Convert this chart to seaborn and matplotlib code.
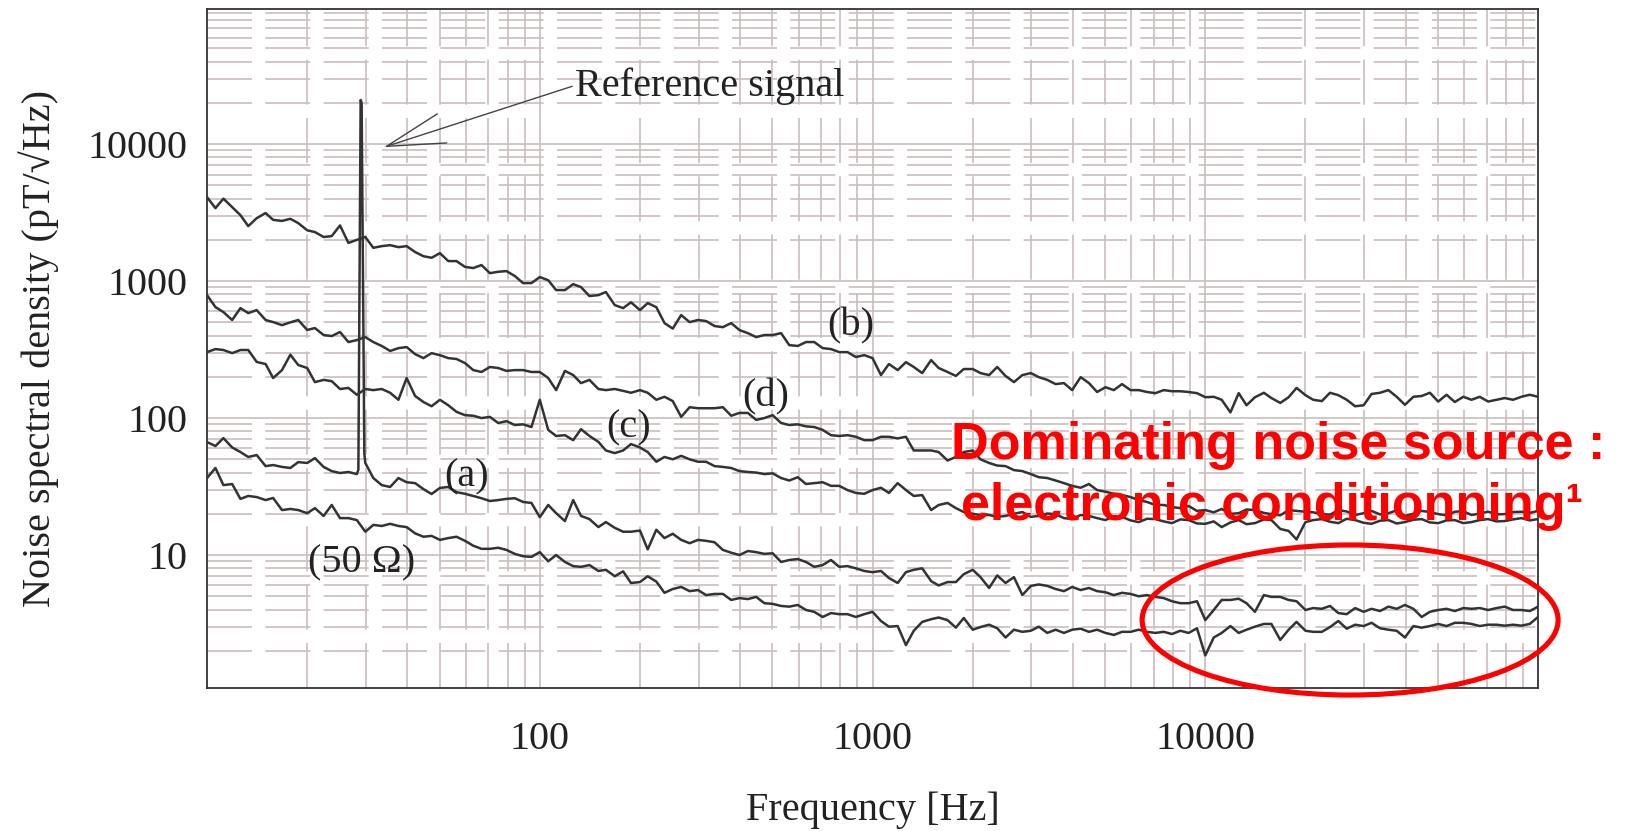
import numpy as np
import pandas as pd
import seaborn as sns
import matplotlib.pyplot as plt
from matplotlib.patches import Ellipse
from matplotlib.ticker import LogLocator, NullFormatter

sns.set_style("white")
plt.rcParams['font.family'] = ['Liberation Serif', 'DejaVu Serif']

# frequency points (Hz), shared by all curves
freq = [10, 10.6, 11.2, 11.9, 12.6, 13.3, 14.1, 15.0, 15.8, 16.8,
        17.8, 18.8, 20.0, 21.1, 22.4, 23.7, 25.1, 26.6, 28.2, 29.9,
        31.6, 33.5, 35.5, 37.6, 39.8, 42.2, 44.7, 47.3, 50.1, 53.1,
        56.2, 59.6, 63.1, 66.8, 70.8, 75.0, 79.4, 84.1, 89.1, 94.4,
        100, 106, 112, 119, 126, 133, 141, 150, 158, 168,
        178, 188, 200, 211, 224, 237, 251, 266, 282, 299,
        316, 335, 355, 376, 398, 422, 447, 473, 501, 531,
        562, 596, 631, 668, 708, 750, 794, 841, 891, 944,
        1000, 1060, 1120, 1190, 1260, 1330, 1410, 1500, 1580, 1680,
        1780, 1880, 2000, 2110, 2240, 2370, 2510, 2660, 2820, 2990,
        3160, 3350, 3550, 3760, 3980, 4220, 4470, 4730, 5010, 5310,
        5620, 5960, 6310, 6680, 7080, 7500, 7940, 8410, 8910, 9440,
        10000, 10600, 11200, 11900, 12600, 13300, 14100, 15000, 15800, 16800,
        17800, 18800, 20000, 21100, 22400, 23700, 25100, 26600, 28200, 29900,
        31600, 33500, 35500, 37600, 39800, 42200, 44700, 47300, 50100, 53100,
        56200, 59600, 63100, 66800, 70800, 75000, 79400, 84100, 89100, 94400,
        100000]

# noise spectral density (pT/sqrt(Hz))
nsd_b = [4100, 3410, 4000, 3470, 3030, 2520, 2880, 3140, 2800, 2750,
         2850, 2650, 2350, 2280, 2100, 2130, 2550, 1900, 2000, 2100,
         1750, 1800, 1830, 1770, 1800, 1630, 1520, 1480, 1600, 1400,
         1400, 1270, 1245, 1310, 1143, 1170, 1183, 1090, 966, 967,
         1070, 1015, 860, 860, 950, 904, 778, 790, 832, 668,
         635, 700, 614, 691, 645, 494, 450, 565, 502, 520,
         511, 470, 461, 494, 439, 417, 390, 404, 404, 417,
         341, 336, 359, 359, 324, 319, 303, 303, 279, 288,
         274, 206, 248, 224, 256, 236, 213, 265, 232, 217,
         203, 228, 228, 213, 206, 236, 203, 183, 206, 213,
         199, 190, 177, 180, 160, 199, 180, 155, 168, 160,
         177, 160, 160, 155, 152, 160, 157, 157, 155, 152,
         142, 143, 136, 110, 152, 124, 142, 153, 140, 129,
         142, 166, 147, 136, 133, 153, 147, 136, 122, 124,
         150, 153, 160, 143, 125, 143, 145, 153, 132, 148,
         131, 143, 136, 143, 132, 136, 140, 136, 143, 148,
         143]

nsd_d = [790, 646, 594, 520, 635, 584, 614, 520, 502, 477,
         500, 520, 440, 454, 404, 397, 425, 359, 371, 390,
         359, 336, 309, 324, 330, 293, 274, 298, 288, 274,
         270, 252, 224, 217, 236, 232, 221, 224, 224, 217,
         217, 196, 160, 221, 206, 180, 190, 163, 160, 163,
         158, 153, 160, 153, 136, 143, 133, 102, 120, 118,
         118, 118, 120, 104, 109, 109, 97, 100, 105, 92,
         89, 90, 87, 86, 82, 75, 74, 75, 73, 69,
         69, 73, 73, 71, 73, 58, 58, 58, 56.5, 49,
         52, 56.5, 58, 50, 47, 45, 44.6, 41.7, 41, 39,
         37, 36.5, 35, 33.5, 32, 31, 33, 29.8, 29, 28,
         27.4, 26.5, 25.2, 24.4, 23.2, 23.2, 22.4, 22, 22.8, 21,
         21.3, 20.5, 21.7, 20.0, 20.2, 21.5, 21.3, 20.3, 19.9, 19.5,
         21.3, 21.0, 20.7, 20.5, 19.9, 19.7, 21.3, 20.8, 19.6, 20.2,
         21, 19.8, 20.2, 21.2, 19.3, 20.0, 21, 20.6, 19.9, 19.5,
         20.7, 20.9, 19.6, 20.1, 20.7, 19.8, 19.9, 20.6, 20.7, 20.3,
         21]

nsd_c = [303, 319, 314, 298, 314, 314, 257, 248, 196, 224,
         290, 244, 232, 183, 190, 186, 163, 166, 148, 163,
         160, 163, 153, 136, 196, 145, 131, 122, 136, 124,
         111, 105, 104, 100, 102, 92, 95, 89, 90, 86,
         136, 82, 74, 75, 69, 83, 74, 67, 58, 55.5,
         58, 64.6, 61, 56.5, 48, 52, 50, 53, 50, 48,
         48, 44.6, 44, 43.2, 41, 40.4, 40, 39, 39.5, 36.5,
         35, 37, 33, 33.5, 34, 32, 32, 29.8, 28.4, 28,
         29.8, 31, 28.4, 33.5, 29.8, 27, 27.4, 21.3, 23.2, 24,
         22, 20.6, 20, 19.6, 19.6, 19, 19.3, 20.0, 20.6, 19.0,
         19.3, 20.1, 19.9, 18.6, 18.3, 19.6, 19.3, 18.6, 18, 19.2,
         19, 17.9, 17.4, 18.4, 18.3, 17.6, 17.1, 18.2, 18, 17.0,
         16.9, 17.6, 16, 17.3, 18, 16.8, 17.1, 18.2, 18, 15.5,
         15, 13, 17.4, 18.0, 18.3, 17.5, 17.1, 18.4, 18, 17.2,
         16.9, 17.8, 18, 17.0, 17.4, 18.1, 18.3, 17.3, 17.1, 17.9,
         18, 17.1, 17.4, 18.0, 18.3, 17.6, 17.7, 18.2, 18.6, 17.9,
         18.3]

nsd_a = [66.8, 62.5, 71.4, 61, 56.5, 52, 53.7, 44.6, 45.4, 44,
         43.2, 47.7, 47, 51, 44, 41, 39.7, 40.4, 39, 47,
         36.5, 32.4, 31.4, 36.5, 34, 33.5, 30.3, 27.9, 30.9, 31.4,
         28.8, 28, 27, 26, 24.8, 25.2, 25.7, 26, 24.4, 24,
         18.9, 23.2, 20.2, 17.7, 25.2, 19.3, 18.3, 16, 17.4, 15.8,
         14.8, 14.8, 15.1, 11, 15.3, 13.3, 14.3, 12.9, 12.2, 12.9,
         12.7, 12.4, 10.9, 10.4, 10, 10.7, 10.5, 10.2, 10.3, 8.9,
         9.2, 9.35, 8.9, 8.2, 8.45, 9.2, 8.2, 8.3, 8.0, 7.65,
         7.5, 7.65, 6.8, 6.25, 7.5, 7.8, 8.0, 6.45, 6.0, 6.35,
         6.35, 7.25, 7.8, 6.9, 5.75, 7.1, 6.25, 6.9, 5.1, 5.95,
         6.1, 5.95, 5.65, 5.45, 5.85, 5.55, 5.75, 5.45, 5.35, 5.1,
         5.3, 5.2, 5.0, 5.1, 4.95, 4.85, 4.6, 4.45, 4.45, 4.6,
         3.35, 3.97, 4.7, 4.7, 4.8, 4.45, 3.85, 5.1, 4.95, 4.95,
         4.7, 4.6, 3.97, 4.1, 4.05, 4.25, 3.77, 3.7, 4.1, 3.85,
         4.05, 3.9, 4.2, 4.05, 4.32, 4.05, 3.53, 3.85, 3.97, 4.05,
         3.9, 4.1, 4.05, 4.1, 3.97, 4.1, 4.2, 3.97, 3.97, 3.9,
         4.2]

nsd_50ohm = [36.5, 43.2, 32.4, 33, 25.7, 27, 26.5, 25.2, 26.1, 21.3,
             21.7, 21.3, 20.2, 22, 19.3, 23.2, 18.6, 18.6, 18, 14.8,
             16.6, 16.3, 16.9, 16.3, 16, 14.4, 13.6, 13.8, 12.9, 13.3,
             13.6, 12.7, 11.7, 11.1, 11.1, 11.3, 10.9, 10.2, 9.8, 9.7,
             10.5, 9.0, 10, 8.9, 8.3, 8.2, 8.45, 7.65, 7.8, 7.0,
             7.6, 6.25, 6.35, 7.0, 6.4, 5.3, 5.65, 5.85, 5.45, 5.55,
             5.1, 5.2, 5.2, 4.7, 4.85, 4.77, 4.95, 4.45, 4.4, 4.25,
             4.2, 4.32, 3.97, 3.85, 3.53, 3.77, 3.7, 3.7, 3.53, 3.7,
             3.85, 3.3, 3.0, 3.03, 2.2, 2.8, 3.25, 3.4, 3.5, 3.35,
             2.95, 3.47, 2.85, 2.98, 3.1, 2.92, 2.5, 2.85, 2.75, 2.8,
             3.0, 2.7, 2.85, 2.7, 2.85, 2.9, 2.75, 2.85, 2.7, 2.61,
             2.75, 2.75, 2.85, 2.75, 2.7, 2.75, 2.65, 2.8, 2.7, 2.92,
             1.85, 2.5, 2.7, 3.03, 2.7, 2.85, 3.0, 3.14, 3.14, 2.4,
             2.85, 3.25, 2.8, 2.75, 2.75, 2.98, 3.3, 2.9, 3.1, 3.03,
             3.2, 2.92, 2.85, 2.8, 2.5, 3.03, 2.95, 3.03, 3.14, 3.03,
             3.2, 3.2, 3.14, 3.03, 3.1, 3.1, 3.05, 3.1, 3.05, 3.14,
             3.53]

# reference signal peak on curve (a)
ref_freq = [28.5, 28.95, 29.15, 29.7]
ref_nsd = [42, 21000, 20000, 55]

# long table for seaborn
parts = []
for name, vals in [('b', nsd_b), ('d', nsd_d), ('c', nsd_c), ('a', nsd_a), ('50 ohm', nsd_50ohm)]:
    parts.append(pd.DataFrame({'freq': freq, 'nsd': vals, 'curve': name}))
parts.append(pd.DataFrame({'freq': ref_freq, 'nsd': ref_nsd, 'curve': 'a'}))
df = pd.concat(parts, ignore_index=True)

fig = plt.figure(figsize=(16.25, 8.31), dpi=100)
ax = fig.add_axes([0.1274, 0.1721, 0.8191, 0.8171])

sns.lineplot(data=df, x='freq', y='nsd', units='curve', estimator=None,
             color='#333333', lw=1.8, ax=ax)

ax.set_xscale('log')
ax.set_yscale('log')
ax.set_xlim(10, 1e5)
ax.set_ylim(1.07, 9.7e4)

# ticks
ax.set_xticks([100, 1000, 10000], ['100', '1000', '10000'])
ax.set_yticks([10, 100, 1000, 10000], ['10', '100', '1000', '10000'])
ax.xaxis.set_minor_locator(LogLocator(base=10, subs=np.arange(2, 10), numticks=50))
ax.yaxis.set_minor_locator(LogLocator(base=10, subs=np.arange(2, 10), numticks=50))
ax.xaxis.set_minor_formatter(NullFormatter())
ax.yaxis.set_minor_formatter(NullFormatter())
ax.tick_params(which='both', direction='in', top=False, right=False,
               color='#333333', labelsize=29, labelcolor='#222222')
ax.tick_params(which='major', length=9, width=1)
ax.tick_params(which='minor', length=5, width=1)
ax.tick_params(axis='x', pad=24)
ax.tick_params(axis='y', pad=14)

# grid
ax.set_axisbelow(True)
ax.grid(which='major', color='#cabebe', lw=1.2)
ax.grid(which='minor', color='#cabebe', lw=1.2, ls=(0, (27, 8)))

for s in ax.spines.values():
    s.set_color('#333333')
    s.set_linewidth(1.3)

ax.set_xlabel('Frequency [Hz]', fontsize=29, color='#222222')
ax.set_ylabel('Noise spectral density (pT/\u221aHz)', fontsize=29, color='#222222')
ax.xaxis.set_label_coords(0.5, -0.153)
ax.yaxis.set_label_coords(-0.111, 0.5)

# curve labels
ax.text(859, 470, '(b)', ha='center', va='center', fontsize=29, color='#222222')
ax.text(477, 142, '(d)', ha='center', va='center', fontsize=29, color='#222222')
ax.text(185, 84.5, '(c)', ha='center', va='center', fontsize=29, color='#222222')
ax.text(60.4, 37.1, '(a)', ha='center', va='center', fontsize=29, color='#222222')
ax.text(29.2, 8.75, '(50 \u03a9)', ha='center', va='center', fontsize=29, color='#222222')

# reference signal arrow
ax.annotate('Reference signal', xy=(34, 9500), xytext=(128, 22400),
            fontsize=29, color='#222222', ha='left', va='baseline',
            arrowprops=dict(arrowstyle='->,head_length=4.2,head_width=1.1',
                            mutation_scale=10, color='#444444', lw=1.0,
                            shrinkA=0, shrinkB=0, relpos=(0, 0.53)))

# red overlay
red_font = ['Liberation Sans', 'DejaVu Sans']
ax.text(0.8047, 0.337, 'Dominating noise source :', transform=ax.transAxes,
        ha='center', va='baseline', fontsize=37.5, fontweight='bold',
        color='#ff0000', family=red_font, zorder=6)
ax.text(0.8002, 0.2474, 'electronic conditionning\u00b9', transform=ax.transAxes,
        ha='center', va='baseline', fontsize=37.5, fontweight='bold',
        color='#ff0000', family=red_font, zorder=6)
ax.add_patch(Ellipse((0.8588, 0.1001), 0.3125, 0.221, transform=ax.transAxes,
                     fill=False, ec='#ff0000', lw=3.7, clip_on=False, zorder=6))

fig.savefig('out.png', dpi=100)
